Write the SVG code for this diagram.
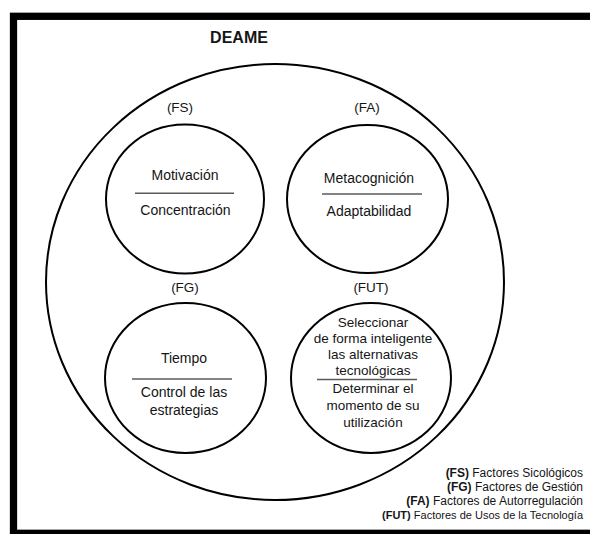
<svg xmlns="http://www.w3.org/2000/svg" width="590" height="534" viewBox="0 0 590 534">
<style>
text{font-family:"Liberation Sans",Arial,sans-serif;fill:#151515}
.c{fill:#fff;stroke:#000;stroke-width:2}
.t{font-size:14px;text-anchor:middle}
.s{font-size:13.5px;text-anchor:middle}
.lab{font-size:13.5px;text-anchor:middle}
.div{stroke:#5a5a5a;stroke-width:1.6}
.leg{font-size:12px;text-anchor:end}
.leg2{font-size:11px;text-anchor:end}
.b{font-weight:bold}
</style>
<rect x="0" y="0" width="590" height="534" fill="#fff"/>
<rect id="frame" x="13.5" y="16.3" width="600" height="517" fill="none" stroke="#000" stroke-width="7.3"/>
<g id="deame">
<ellipse cx="275" cy="282" rx="229" ry="218" fill="none" stroke="#000" stroke-width="2"/>
<text x="239" y="43" font-size="16" font-weight="bold" text-anchor="middle">DEAME</text>
</g>
<g id="fs">
<text class="lab" x="180" y="112">(FS)</text>
<ellipse class="c" cx="185" cy="199" rx="79" ry="74.5"/>
<text class="t" x="185" y="180">Motivación</text>
<line class="div" x1="135" y1="193.3" x2="234" y2="193.3"/>
<text class="t" x="185.5" y="215">Concentración</text>
</g>
<g id="fa">
<text class="lab" x="367" y="112">(FA)</text>
<ellipse class="c" cx="367.5" cy="199" rx="80.5" ry="74"/>
<text class="t" x="369" y="182.5">Metacognición</text>
<line class="div" x1="322" y1="194" x2="422" y2="194"/>
<text class="t" x="369" y="216">Adaptabilidad</text>
</g>
<g id="fg">
<text class="lab" x="185" y="292">(FG)</text>
<ellipse class="c" cx="185.5" cy="378" rx="80.5" ry="75"/>
<text class="t" x="184" y="363">Tiempo</text>
<line class="div" x1="132" y1="379" x2="232" y2="379"/>
<text class="t" x="184" y="397">Control de las</text>
<text class="t" x="184" y="415">estrategias</text>
</g>
<g id="fut">
<text class="lab" x="371" y="292">(FUT)</text>
<ellipse class="c" cx="371" cy="378" rx="80" ry="75"/>
<text class="s" x="373" y="327">Seleccionar</text>
<text class="s" x="373" y="343">de forma inteligente</text>
<text class="s" x="373" y="359">las alternativas</text>
<text class="s" x="373" y="375">tecnológicas</text>
<line class="div" x1="317" y1="379.5" x2="417" y2="379.5"/>
<text class="s" x="373" y="393">Determinar el</text>
<text class="s" x="373" y="410">momento de su</text>
<text class="s" x="373" y="427">utilización</text>
</g>
<g id="legend">
<text class="leg" x="583" y="477"><tspan class="b">(FS)</tspan> Factores Sicológicos</text>
<text class="leg" x="583" y="491"><tspan class="b">(FG)</tspan> Factores de Gestión</text>
<text class="leg" x="583" y="504.5"><tspan class="b">(FA)</tspan> Factores de Autorregulación</text>
<text class="leg2" x="583" y="518.5"><tspan class="b">(FUT)</tspan> Factores de Usos de la Tecnología</text>
</g>
<g id="connectors"></g>
</svg>
